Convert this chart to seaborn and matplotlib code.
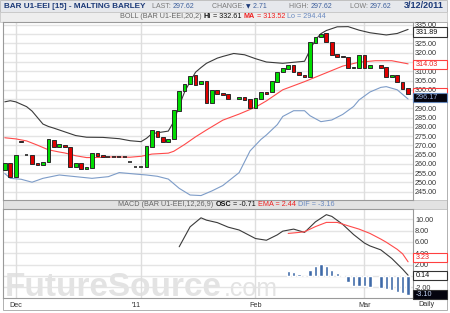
import numpy as np
import pandas as pd
import matplotlib
matplotlib.use("Agg")
import matplotlib.pyplot as plt
import matplotlib.transforms as mtransforms
from matplotlib.patches import Rectangle
import seaborn as sns

# ---------------- data ----------------
candle_dates = ['2010-11-29', '2010-11-30', '2010-12-01', '2010-12-02', '2010-12-03', '2010-12-06',
                '2010-12-07', '2010-12-08', '2010-12-09', '2010-12-10', '2010-12-13', '2010-12-14',
                '2010-12-15', '2010-12-16', '2010-12-17', '2010-12-20', '2010-12-21', '2010-12-22',
                '2010-12-23', '2010-12-24', '2010-12-27', '2010-12-28', '2010-12-29', '2010-12-30',
                '2010-12-31', '2011-01-03', '2011-01-04', '2011-01-05', '2011-01-06', '2011-01-07',
                '2011-01-10', '2011-01-11', '2011-01-12', '2011-01-13', '2011-01-14', '2011-01-17',
                '2011-01-18', '2011-01-19', '2011-01-20', '2011-01-21', '2011-01-24', '2011-01-25',
                '2011-01-27', '2011-01-28', '2011-01-31', '2011-02-01', '2011-02-02', '2011-02-03',
                '2011-02-04', '2011-02-07', '2011-02-08', '2011-02-09', '2011-02-10', '2011-02-11',
                '2011-02-14', '2011-02-15', '2011-02-16', '2011-02-17', '2011-02-18', '2011-02-21',
                '2011-02-22', '2011-02-23', '2011-02-24', '2011-02-25', '2011-02-28', '2011-03-01',
                '2011-03-02', '2011-03-04', '2011-03-07', '2011-03-08', '2011-03-09', '2011-03-10',
                '2011-03-11']
opens = [256.7, 260.3, 253.1, 272.2, 264.8, 264.8, 260.6, 259.4, 261.2, 272.9, 269.0, 270.4,
         269.3, 258.5, 260.6, 257.1, 257.6, 266.1, 264.8, 263.9, 263.9, 263.9, 263.9, 261.2,
         258.5, 258.5, 258.2, 269.3, 277.9, 274.7, 271.7, 273.4, 288.7, 299.4, 303.1, 308.0,
         303.0, 304.8, 292.7, 299.9, 298.1, 297.6, 295.0, 296.3, 295.0, 290.0, 295.0, 299.0,
         299.0, 304.4, 309.5, 311.2, 313.4, 309.8, 308.0, 307.1, 325.1, 328.7, 330.5, 326.0,
         319.2, 318.4, 317.9, 311.6, 311.6, 318.8, 312.0, 313.4, 312.5, 306.8, 308.0, 304.4,
         300.8]
closes = [260.3, 253.1, 264.8, 271.6, 264.8, 260.0, 259.6, 261.2, 273.3, 269.3, 270.7, 269.0,
          258.5, 260.6, 257.1, 258.5, 266.1, 264.3, 263.6, 263.9, 263.9, 263.9, 263.9, 261.2,
          258.5, 258.5, 269.7, 278.3, 274.4, 271.7, 273.4, 289.1, 299.5, 303.0, 307.6, 302.6,
          304.8, 292.7, 299.9, 297.6, 297.2, 295.0, 296.3, 294.5, 290.0, 295.4, 299.0, 297.6,
          305.0, 309.8, 311.6, 313.4, 309.8, 307.8, 307.1, 325.7, 328.7, 330.0, 326.0, 318.8,
          317.9, 317.6, 311.6, 312.5, 318.8, 311.6, 313.4, 312.0, 307.1, 308.0, 304.4, 300.33,
          297.62]

upper_dates = ['2010-11-29', '2010-11-30', '2010-12-01', '2010-12-03', '2010-12-06', '2010-12-08',
               '2010-12-09', '2010-12-10', '2010-12-14', '2010-12-16', '2010-12-20', '2010-12-23',
               '2010-12-28', '2010-12-30', '2011-01-03', '2011-01-04', '2011-01-05', '2011-01-06',
               '2011-01-10', '2011-01-11', '2011-01-12', '2011-01-13', '2011-01-14', '2011-01-17',
               '2011-01-18', '2011-01-19', '2011-01-21', '2011-01-24', '2011-01-26', '2011-01-28',
               '2011-02-01', '2011-02-03', '2011-02-08', '2011-02-14', '2011-02-15', '2011-02-16',
               '2011-02-17', '2011-02-18', '2011-02-22', '2011-02-24', '2011-02-28', '2011-03-02',
               '2011-03-07', '2011-03-09', '2011-03-11']
upper_vals = [293.5, 294.1, 293.5, 290.9, 288.5, 281.5, 280.2, 279.3, 277.3, 275.3, 274.4, 274.3,
              273.6, 272.5, 272.0, 273.8, 276.3, 276.8, 277.7, 282.8, 291.4, 298.9, 304.4, 309.5,
              312.0, 314.3, 317.1, 318.0, 319.6, 318.9, 316.8, 315.0, 314.3, 315.4, 321.5, 327.0,
              330.3, 332.0, 334.0, 334.1, 332.2, 330.8, 329.6, 330.4, 332.6]

ma_dates = ['2010-11-29', '2010-12-01', '2010-12-03', '2010-12-07', '2010-12-09', '2010-12-13',
            '2010-12-14', '2010-12-16', '2010-12-20', '2010-12-23', '2010-12-27', '2010-12-30',
            '2011-01-03', '2011-01-05', '2011-01-10', '2011-01-11', '2011-01-13', '2011-01-17',
            '2011-01-19', '2011-01-24', '2011-01-27', '2011-02-01', '2011-02-03', '2011-02-08',
            '2011-02-14', '2011-02-18', '2011-02-23', '2011-02-28', '2011-03-03', '2011-03-08',
            '2011-03-11']
ma_vals = [274.1, 273.5, 272.4, 270.1, 267.6, 266.4, 265.9, 264.4, 263.4, 263.5, 263.8, 263.6,
           264.1, 265.3, 265.8, 266.8, 270.5, 274.6, 278.3, 283.6, 286.9, 290.6, 294.0, 300.0,
           304.4, 309.2, 312.8, 314.9, 315.7, 315.7, 314.0]

lower_dates = ['2010-11-29', '2010-11-30', '2010-12-02', '2010-12-06', '2010-12-08', '2010-12-13',
               '2010-12-16', '2010-12-21', '2010-12-24', '2010-12-28', '2010-12-31', '2011-01-04',
               '2011-01-06', '2011-01-10', '2011-01-12', '2011-01-14', '2011-01-18', '2011-01-20',
               '2011-01-24', '2011-01-27', '2011-01-31', '2011-02-02', '2011-02-03', '2011-02-07',
               '2011-02-08', '2011-02-10', '2011-02-14', '2011-02-15', '2011-02-17', '2011-02-21',
               '2011-02-23', '2011-02-25', '2011-02-28', '2011-03-02', '2011-03-04', '2011-03-07',
               '2011-03-09', '2011-03-11']
lower_vals = [254.8, 252.2, 251.7, 250.1, 252.2, 254.0, 253.1, 252.2, 253.1, 255.3, 254.5, 254.0,
              253.3, 251.8, 246.8, 243.2, 242.9, 245.4, 248.3, 255.3, 267.0, 273.2, 275.6, 281.2,
              285.6, 288.7, 288.7, 286.0, 282.8, 283.7, 286.7, 291.0, 294.5, 298.8, 301.3, 301.7,
              300.0, 295.0]

macd_dates = ['2011-01-12', '2011-01-14', '2011-01-18', '2011-01-19', '2011-01-21', '2011-01-25',
              '2011-01-27', '2011-01-31', '2011-02-01', '2011-02-03', '2011-02-07', '2011-02-08',
              '2011-02-10', '2011-02-14', '2011-02-16', '2011-02-18', '2011-02-21', '2011-02-23',
              '2011-02-25', '2011-03-01', '2011-03-02', '2011-03-04', '2011-03-08', '2011-03-10',
              '2011-03-11']
macd_vals = [5.15, 8.66, 10.25, 9.84, 9.4, 8.6, 8.1, 7.1, 6.6, 6.3, 7.25, 7.9, 8.26, 7.68, 9.54,
             10.8, 10.5, 9.1, 7.3, 5.8, 5.3, 4.6, 3.1, 1.2, 0.14]

ema_dates = ['2011-02-09', '2011-02-11', '2011-02-14', '2011-02-16', '2011-02-18', '2011-02-22',
             '2011-02-24', '2011-02-28', '2011-03-02', '2011-03-04', '2011-03-07', '2011-03-09',
             '2011-03-10', '2011-03-11']
ema_vals = [7.5, 7.68, 7.8, 8.7, 9.44, 9.44, 8.84, 8.26, 7.5, 6.5, 5.95, 4.7, 3.9, 2.5]

osc_dates = ['2011-02-09', '2011-02-10', '2011-02-11', '2011-02-14', '2011-02-15', '2011-02-16',
             '2011-02-17', '2011-02-18', '2011-02-21', '2011-02-22', '2011-02-23', '2011-02-24',
             '2011-02-25', '2011-02-28', '2011-03-01', '2011-03-02', '2011-03-04', '2011-03-07',
             '2011-03-08', '2011-03-09', '2011-03-10', '2011-03-11']
osc_vals = [0.93, 0.75, 0.35, 0.08, 1.05, 1.76, 2.11, 1.81, 1.05, 0.47, 0.18, -1.0, -1.71, -1.71,
            -1.76, -1.88, -2.16, -2.34, -2.46, -2.76, -3.04, -3.34]

month_dates = ['2010-12-01', '2011-01-03', '2011-02-01', '2011-03-01']
month_labels = ['Dec', "'11", 'Feb', 'Mar']
price_ticks = list(range(245, 340, 5))
price_hidden = [295, 315, 330]          # labels covered by the value boxes
macd_ticks = [-2, 0, 2, 4, 6, 8, 10]
macd_hidden = [0]

# ---------------- setup ----------------
sns.set_style('white')
plt.rcParams['font.family'] = ['Liberation Sans', 'DejaVu Sans']

W, H = 450, 313
fig = plt.figure(figsize=(W / 100, H / 100), dpi=100)
fig.patch.set_facecolor('white')


def fx(px):
    return px / W


def fy(py):
    return 1 - py / H


calendar = pd.bdate_range('2010-11-29', '2011-03-11')


def pos(dates):
    return calendar.get_indexer(pd.to_datetime(dates))


# header / frame backgrounds
fig.add_artist(Rectangle((fx(0), fy(11.5)), fx(447), 11.5 / H, transform=fig.transFigure,
                         facecolor='#e6e8ec', edgecolor='#b8b8b8', lw=0.6, zorder=0))
fig.add_artist(Rectangle((fx(0), fy(21.5)), fx(447), 10 / H, transform=fig.transFigure,
                         facecolor='#eeeeee', edgecolor='#c8c8c8', lw=0.6, zorder=0))
fig.add_artist(Rectangle((fx(3), fy(209)), fx(443.5), 9 / H, transform=fig.transFigure,
                         facecolor='#e2e2e2', edgecolor='#c0c0c0', lw=0.6, zorder=0))
fig.add_artist(Rectangle((fx(3), fy(310)), fx(443.5), 288 / H, transform=fig.transFigure,
                         facecolor='none', edgecolor='#b0b0b0', lw=0.7, zorder=0))

ax = fig.add_axes([fx(3), fy(200), (413 - 3) / W, (200 - 22) / H])
ax2 = fig.add_axes([fx(3), fy(298), (413 - 3) / W, (298 - 209) / H])

FS = 5.2
for a in (ax, ax2):
    a.set_facecolor('white')
    for s in a.spines.values():
        s.set_color('#9a9a9a')
        s.set_linewidth(0.8)
    a.yaxis.tick_right()
    a.tick_params(axis='y', length=0, pad=1.5, labelsize=FS, labelcolor='#333333')
    for m in pos(month_dates):
        a.axvline(m, color='#dedede', lw=1.0, zorder=0.6)

# ---------------- main panel ----------------
for v in price_ticks:
    ax.axhline(v, color='#e4e4e4', lw=1.0, zorder=0.5)

xc = pos(candle_dates)
o = np.array(opens)
c = np.array(closes)
flat = np.abs(c - o) < 0.25
up = (c > o) & ~flat
dn = (c < o) & ~flat
bw = 0.68
ax.bar(xc[up], (c - o)[up], bottom=o[up], width=bw, color='#00dd00', edgecolor='#2a2a2a',
       linewidth=0.7, zorder=4)
ax.bar(xc[dn], (o - c)[dn], bottom=c[dn], width=bw, color='#e00000', edgecolor='#2a2a2a',
       linewidth=0.7, zorder=4)
ax.hlines(o[flat], xc[flat] - bw / 2, xc[flat] + bw / 2, color='#111111', lw=1.1, zorder=4)

sns.lineplot(x=pos(upper_dates), y=upper_vals, ax=ax, color='#3a3a3a', linewidth=0.8, zorder=3)
sns.lineplot(x=pos(ma_dates), y=ma_vals, ax=ax, color='#ff4a4a', linewidth=0.8, zorder=3)
sns.lineplot(x=pos(lower_dates), y=lower_vals, ax=ax, color='#7d9cc8', linewidth=0.8, zorder=3)

ax.set_yticks(price_ticks)
ax.set_yticklabels(['' if v in price_hidden else '%.2f' % v for v in price_ticks])
ax.set_xticks([])
ax.set_xlim(-0.33, 74.9)
ax.set_ylim(240.5, 336.6)
ax.set_xlabel('')
ax.set_ylabel('')


def box(a, yval, h, text, edge, face, tcolor):
    trans = mtransforms.blended_transform_factory(a.transAxes, a.transData)
    r = Rectangle((1.0, yval - h / 2), 33.5 / 410, h, transform=trans, clip_on=False,
                  facecolor=face, edgecolor=edge, lw=0.8, zorder=10)
    a.add_artist(r)
    if text:
        a.text(1.0 + 3 / 410, yval, text, transform=trans, va='center', ha='left',
               fontsize=FS, color=tcolor, zorder=11, clip_on=False)


box(ax, 331.2, 4.9, '331.89', '#333333', 'white', '#111111')
box(ax, 313.9, 4.9, '314.03', '#ff4040', 'white', '#ee2020')
box(ax, 298.4, 4.9, '', '#ff4040', 'none', '#ee2020')
box(ax, 295.6, 4.9, '296.17', '#6688bb', '#04040e', '#9ab0dc')

# ---------------- MACD panel ----------------
for v in macd_ticks:
    ax2.axhline(v, color='#e4e4e4', lw=1.0, zorder=0.5)

ax2.text(0.005, 0.025, 'FutureSource', transform=ax2.transAxes, fontsize=24,
         fontweight='bold', color='#e3e3e3', va='baseline', ha='left', zorder=0.4)
ax2.text((224 - 3) / 410, 0.025, '.com', transform=ax2.transAxes, fontsize=18,
         color='#e3e3e3', va='baseline', ha='left', zorder=0.4)

ax2.bar(pos(osc_dates), osc_vals, width=0.62, color='#3f6aa8', zorder=3)
sns.lineplot(x=pos(macd_dates), y=macd_vals, ax=ax2, color='#3a3a3a', linewidth=0.8, zorder=4)
sns.lineplot(x=pos(ema_dates), y=ema_vals, ax=ax2, color='#ff4a4a', linewidth=0.8, zorder=4)

ax2.set_yticks(macd_ticks)
ax2.set_yticklabels(['' if v in macd_hidden else '%.2f' % v for v in macd_ticks])
mp = pos(month_dates)
ax2.set_xticks([mp[0], mp[1] - 0.8, mp[2], mp[3]])
ax2.set_xticklabels(month_labels)
ax2.tick_params(axis='x', length=0, pad=3, labelsize=FS, labelcolor='#333333')
ax2.set_xlim(-0.33, 74.9)
ax2.set_ylim(-3.87, 11.8)
ax2.set_xlabel('')
ax2.set_ylabel('')

box(ax2, 3.2, 1.6, '3.23', '#ff4040', 'white', '#ee2020')
box(ax2, 0.03, 1.6, '0.14', '#333333', 'white', '#111111')
box(ax2, -3.3, 1.6, '-3.10', '#333333', '#04040e', '#c0d0f0')

fig.text(fx(426), fy(305), 'Daily', fontsize=FS, color='#333333', ha='center', va='center')

# ---------------- header texts ----------------
renderer = fig.canvas.get_renderer()


def chain(x_px, y_px, parts, size):
    x = x_px
    for part in parts:
        text, color, weight = part[:3]
        fam = part[3] if len(part) > 3 else ['Liberation Sans', 'DejaVu Sans']
        sz = part[4] if len(part) > 4 else size
        t = fig.text(fx(x), fy(y_px), text, color=color, fontsize=sz, fontweight=weight,
                     ha='left', va='center', family=fam)
        bb = t.get_window_extent(renderer=renderer)
        x = bb.x1


fig.text(fx(4), fy(6), 'BAR U1-EEI [15] - MALTING BARLEY', fontsize=5.9, fontweight='bold',
         color='#1c3a78', ha='left', va='center')
navy = '#3d5f9c'
lab = '#7a7a7a'
chain(152, 7, [('LAST: ', lab, 'normal'), ('297.62', navy, 'normal')], 5.0)
chain(212, 7, [('CHANGE: ', lab, 'normal'), ('\u25bc', '#1c3a78', 'normal', ['DejaVu Sans'], 4.2),
               (' 2.71', navy, 'normal')], 5.0)
chain(289, 7, [('HIGH: ', lab, 'normal'), ('297.62', navy, 'normal')], 5.0)
chain(350, 7, [('LOW: ', lab, 'normal'), ('297.62', navy, 'normal')], 5.0)
fig.text(fx(444), fy(6), '3/12/2011', fontsize=6.5, fontweight='bold', color='#1c3a78',
         ha='right', va='center')

chain(120, 16.5, [('BOLL (BAR U1-EEI,20,2) ', '#666666', 'normal'), ('Hi', '#111111', 'bold'),
                  (' = 332.61 ', '#111111', 'normal'), ('MA', '#ee2020', 'bold'),
                  (' = 313.52 ', '#ee2020', 'normal'), ('Lo = 294.44', '#6a8ac0', 'normal')], 5.2)
chain(118, 204.5, [('MACD (BAR U1-EEI,12,26,9) ', '#666666', 'normal'), ('OSC', '#111111', 'bold'),
                   (' = -0.71 ', '#111111', 'normal'), ('EMA = 2.44 ', '#ee2020', 'normal'),
                   ('DIF = -3.16', '#6a8ac0', 'normal')], 5.2)

fig.savefig('out.png', dpi=100, facecolor='white')
